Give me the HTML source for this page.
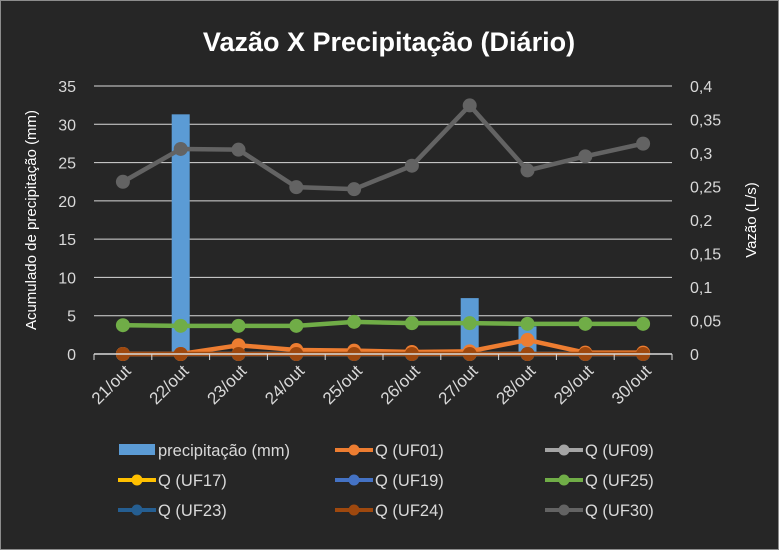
<!DOCTYPE html>
<html><head><meta charset="utf-8"><style>
body{margin:0;background:#fff}
svg{display:block;font-family:"Liberation Sans",sans-serif}
</style></head><body>
<svg width="779" height="550" viewBox="0 0 779 550">
<rect x="0.5" y="0.5" width="778" height="549" fill="#262626" stroke="#8c8c8c"/>
<text x="389" y="51" text-anchor="middle" font-size="27" font-weight="bold" fill="#fff">Vazão X Precipitação (Diário)</text>
<g id="grid"></g><g id="bars"></g><g id="lines"></g><g id="axes"></g><g id="legend"></g>
<text transform="translate(36,220) rotate(-90)" text-anchor="middle" font-size="15" fill="#fff">Acumulado de precipitação (mm)</text>
<text transform="translate(756,220) rotate(-90)" text-anchor="middle" font-size="15" fill="#fff">Vazão (L/s)</text>
</svg>
<script>
const categories=["21/out","22/out","23/out","24/out","25/out","26/out","27/out","28/out","29/out","30/out"];
const precip=[0,31.3,0,0,0,0,7.3,3.6,0,0];
const qUF01=[0,0,0.013,0.006,0.005,0.003,0.004,0.021,0.002,0.002];
const qUF09=[0,0,0,0,0,0,0,0,0,0];
const qUF17=[0,0,0,0,0,0,0,0,0,0];
const qUF19=[0,0,0,0,0,0,0,0,0,0];
const qUF23=[0,0,0,0,0,0,0,0,0,0];
const qUF25=[0.043,0.042,0.042,0.042,0.048,0.046,0.046,0.045,0.045,0.045];
const qUF24=[0,0,0,0,0,0,0,0,0,0];
const qUF30=[0.257,0.306,0.305,0.249,0.246,0.281,0.371,0.274,0.295,0.314];
const leftTicks=[0,5,10,15,20,25,30,35];
const rightTicks=["0","0,05","0,1","0,15","0,2","0,25","0,3","0,35","0,4"];
const NS="http://www.w3.org/2000/svg";
const X0=94,X1=672,Y0=354,Y1=86;
const bw=(X1-X0)/categories.length;
const xc=i=>X0+bw*(i+0.5);
const yL=v=>Y0-(v/35)*(Y0-Y1);
const yR=v=>Y0-(v/0.4)*(Y0-Y1);
function mk(p,t,a){const e=document.createElementNS(NS,t);for(const k in a)e.setAttribute(k,a[k]);document.getElementById(p).appendChild(e);return e;}
leftTicks.forEach(v=>{
 if(v>0){const g=mk("grid","line",{x1:X0,x2:X1,y1:yL(v),y2:yL(v),stroke:"#d9d9d9","stroke-width":1});
 
 }
 const t=mk("axes","text",{x:76,y:yL(v)+6,"text-anchor":"end","font-size":16,fill:"#d9d9d9"});t.textContent=v;
 
 
});
rightTicks.forEach((s,i)=>{
 const t=mk("axes","text",{x:690,y:yR(i*0.05)+6,"font-size":16,fill:"#d9d9d9"});t.textContent=s;
 
 
});
const ax=mk("axes","line",{x1:X0,x2:X1,y1:Y0,y2:Y0,stroke:"#d9d9d9","stroke-width":1.5});


for(let i=0;i<=categories.length;i++){const tk=mk("axes","line",{x1:X0+bw*i,x2:X0+bw*i,y1:Y0,y2:Y0+6,stroke:"#d9d9d9"});
 
 }
categories.forEach((c,i)=>{
 const t=mk("axes","text",{transform:`translate(${xc(i)+9},${Y0+18}) rotate(-45)`,"text-anchor":"end","font-size":17,fill:"#d9d9d9"});t.textContent=c;
 
 
});
precip.forEach((v,i)=>{
 if(v<=0)return;
 const r=mk("bars","rect",{x:xc(i)-9,y:yL(v),width:18,height:Y0-yL(v),fill:"#5b9bd5"});
 
 
});
const series=[["uf09",qUF09,"#a5a5a5"],["uf17",qUF17,"#ffc000"],["uf19",qUF19,"#4472c4"],["uf23",qUF23,"#255e91"],["uf30",qUF30,"#636363"],["uf25",qUF25,"#70ad47"],["uf01",qUF01,"#ed7d31"],["uf24",qUF24,"#9e480e"]];
series.forEach(([n,d,c])=>{
 const pl=mk("lines","polyline",{points:d.map((v,i)=>xc(i)+","+yR(v)).join(" "),fill:"none",stroke:c,"stroke-width":4.5,"stroke-linejoin":"round"});
 
 
 d.forEach((v,i)=>{const p=mk("lines","circle",{cx:xc(i),cy:yR(v),r:7,fill:c});
 
 });
});
const leg=[["precipitação (mm)","#5b9bd5",1],["Q (UF01)","#ed7d31"],["Q (UF09)","#a5a5a5"],["Q (UF17)","#ffc000"],["Q (UF19)","#4472c4"],["Q (UF25)","#70ad47"],["Q (UF23)","#255e91"],["Q (UF24)","#9e480e"],["Q (UF30)","#636363"]];
const lx=[118,335,545],ly=[450,480,510];
leg.forEach((L,k)=>{
 const x=lx[k%3],y=ly[Math.floor(k/3)];
 const g=mk("legend","g",{});
 
 
 if(L[2]){const r=document.createElementNS(NS,"rect");r.setAttribute("x",x+1);r.setAttribute("y",y-6);r.setAttribute("width",36);r.setAttribute("height",11);r.setAttribute("fill",L[1]);g.appendChild(r);}
 else{const l=document.createElementNS(NS,"line");l.setAttribute("x1",x);l.setAttribute("x2",x+38);l.setAttribute("y1",y);l.setAttribute("y2",y);l.setAttribute("stroke",L[1]);l.setAttribute("stroke-width",4);g.appendChild(l);
 const c=document.createElementNS(NS,"circle");c.setAttribute("cx",x+19);c.setAttribute("cy",y);c.setAttribute("r",5.5);c.setAttribute("fill",L[1]);g.appendChild(c);}
 const t=document.createElementNS(NS,"text");t.setAttribute("x",x+40);t.setAttribute("y",y+6);t.setAttribute("font-size",16.5);t.setAttribute("fill","#d9d9d9");t.textContent=L[0];g.appendChild(t);
});
</script>
</body></html>
